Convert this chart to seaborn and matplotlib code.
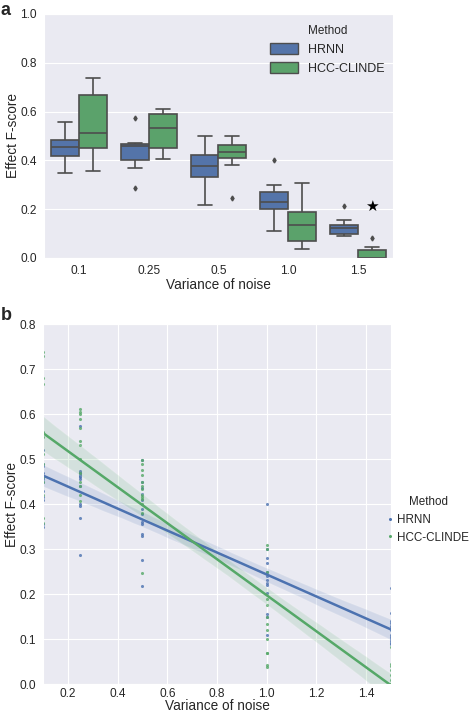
import numpy as np
import pandas as pd
import matplotlib
matplotlib.use("Agg")
import matplotlib.pyplot as plt
from matplotlib.lines import Line2D
from matplotlib.patches import Patch
import seaborn as sns

# ---------------- data ----------------
variances = [0.1, 0.25, 0.5, 1.0, 1.5]
variance_labels = ["0.1", "0.25", "0.5", "1.0", "1.5"]
methods = ["HRNN", "HCC-CLINDE"]

hrnn_scores = [
    [0.348, 0.355, 0.41, 0.416, 0.43, 0.45, 0.456, 0.46, 0.47, 0.484, 0.49, 0.52, 0.557],
    [0.286, 0.368, 0.395, 0.40, 0.44, 0.455, 0.46, 0.462, 0.465, 0.468, 0.47, 0.473, 0.573],
    [0.218, 0.275, 0.33, 0.333, 0.355, 0.36, 0.378, 0.39, 0.41, 0.422, 0.435, 0.448, 0.498],
    [0.109, 0.15, 0.155, 0.202, 0.22, 0.225, 0.231, 0.24, 0.25, 0.27, 0.28, 0.30, 0.40],
    [0.089, 0.092, 0.095, 0.10, 0.105, 0.11, 0.121, 0.125, 0.13, 0.136, 0.14, 0.157, 0.213],
]
hcc_scores = [
    [0.357, 0.37, 0.42, 0.449, 0.46, 0.49, 0.512, 0.55, 0.56, 0.667, 0.68, 0.73, 0.737],
    [0.407, 0.42, 0.44, 0.449, 0.47, 0.50, 0.532, 0.54, 0.57, 0.589, 0.60, 0.605, 0.611],
    [0.246, 0.381, 0.40, 0.411, 0.415, 0.42, 0.434, 0.44, 0.45, 0.465, 0.475, 0.49, 0.498],
    [0.037, 0.043, 0.07, 0.07, 0.10, 0.12, 0.134, 0.15, 0.175, 0.188, 0.25, 0.30, 0.308],
    [0.0, 0.0, 0.0, 0.0, 0.0, 0.0, 0.0, 0.01, 0.02, 0.031, 0.04, 0.044, 0.083],
]

rows = []
for method, groups in zip(methods, [hrnn_scores, hcc_scores]):
    for v, lab, vals in zip(variances, variance_labels, groups):
        for s in vals:
            rows.append({"Method": method, "variance": v, "label": lab, "score": s})
df = pd.DataFrame(rows)

# ---------------- style ----------------
sns.set_style("darkgrid", {"axes.facecolor": "#EAEAF2", "grid.color": "white"})
plt.rcParams["font.family"] = ["Liberation Sans", "DejaVu Sans"]
plt.rcParams["text.color"] = ".15"
plt.rcParams["axes.labelcolor"] = ".15"
plt.rcParams["xtick.color"] = ".15"
plt.rcParams["ytick.color"] = ".15"

palette = ["#4C72B0", "#55A868"]
label_fs = 9.8
tick_fs = 8.6

fig = plt.figure(figsize=(4.72, 7.14), dpi=100)
ax_a = fig.add_axes([0.0932, 0.6387, 0.7394, 0.3417])
ax_b = fig.add_axes([0.0911, 0.0420, 0.7373, 0.5042])

# ---------------- panel a ----------------
sns.boxplot(data=df, x="label", y="score", hue="Method", order=variance_labels,
            hue_order=methods, palette=palette, ax=ax_a, width=0.8,
            saturation=0.85, linecolor=".3", linewidth=1.2,
            flierprops=dict(marker="d", markersize=2.5, markerfacecolor=".3",
                            markeredgecolor=".3"))
ax_a.set_ylim(0, 1.0)
ax_a.set_yticks(np.arange(0, 1.01, 0.2))
ax_a.set_yticklabels([f"{t:.1f}" for t in np.arange(0, 1.01, 0.2)])
ax_a.set_xlabel("Variance of noise", fontsize=label_fs, labelpad=1)
ax_a.set_ylabel("Effect F-score", fontsize=label_fs, labelpad=0.5)
ax_a.tick_params(labelsize=tick_fs, length=0, pad=5)
ax_a.get_legend().remove()
handles_a = [Patch(facecolor=sns.desaturate(c, 0.85), edgecolor=".3", linewidth=1.0)
             for c in palette]
leg_a = ax_a.legend(handles_a, methods, title="Method", loc="upper right",
                    bbox_to_anchor=(1.0, 0.99), frameon=False, fontsize=9,
                    title_fontsize=8.5, handlelength=2.2, handleheight=0.9,
                    labelspacing=0.5, borderaxespad=0.3)
# significance star above HCC-CLINDE at variance 1.5
star_y = max(hrnn_scores[-1])
ax_a.text(len(variance_labels) - 1 + 0.2, star_y, "\u2605", ha="center",
          va="center", fontsize=11, color="black", family="DejaVu Sans")

# ---------------- panel b ----------------
for method, color in zip(methods, palette):
    sub = df[df["Method"] == method]
    sns.regplot(data=sub, x="variance", y="score", ax=ax_b, color=color,
                scatter_kws=dict(s=5, linewidths=0), line_kws=dict(linewidth=1.8),
                seed=0, truncate=False)
ax_b.set_xlim(0.1, 1.5)
ax_b.set_ylim(0, 0.8)
ax_b.set_xticks(np.arange(0.2, 1.41, 0.2))
ax_b.set_xticklabels([f"{t:.1f}" for t in np.arange(0.2, 1.41, 0.2)])
ax_b.set_yticks(np.arange(0, 0.81, 0.1))
ax_b.set_yticklabels([f"{t:.1f}" for t in np.arange(0, 0.81, 0.1)])
ax_b.set_xlabel("Variance of noise", fontsize=label_fs)
ax_b.xaxis.set_label_coords(0.5, -0.043)
ax_b.set_ylabel("Effect F-score", fontsize=label_fs, labelpad=0.5)
ax_b.tick_params(labelsize=tick_fs, length=0, pad=3)
ax_b.tick_params(axis="y", pad=5)
handles_b = [Line2D([], [], linestyle="none", marker="o", markersize=2.2,
                    markerfacecolor=c, markeredgewidth=0) for c in palette]
fig.legend(handles_b, methods, title="Method", loc="upper left",
           bbox_to_anchor=(0.810, 0.312), frameon=False, fontsize=8.4,
           title_fontsize=8.4, handlelength=0.6, handletextpad=0.3,
           labelspacing=0.5, borderaxespad=0.0)

# panel letters
fig.text(0.002, 0.997, "a", fontsize=13, fontweight="bold", va="top", ha="left")
fig.text(0.002, 0.570, "b", fontsize=13, fontweight="bold", va="top", ha="left")

fig.savefig("out.png", dpi=100)
